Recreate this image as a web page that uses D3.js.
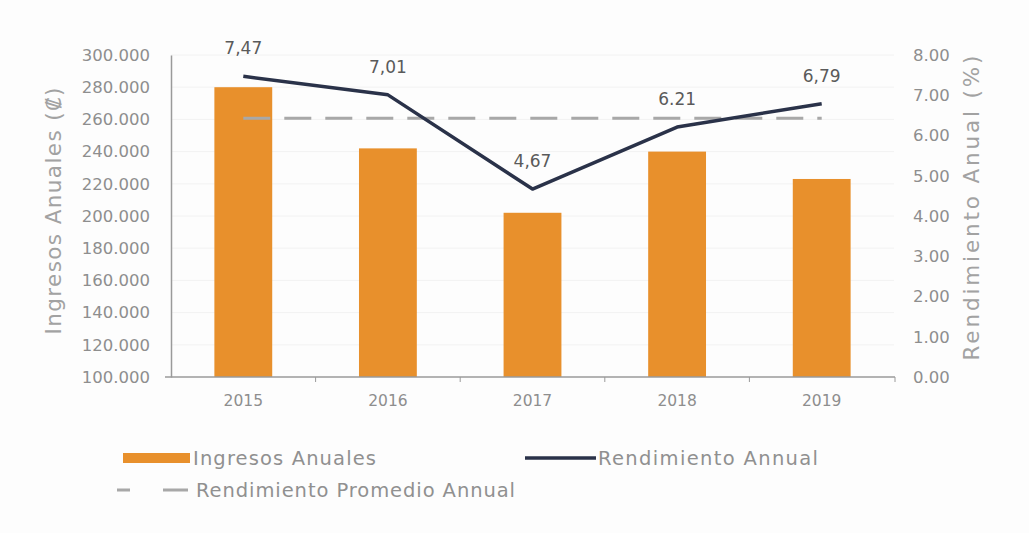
<!DOCTYPE html>
<html>
<head>
<meta charset="utf-8">
<script src="https://cdn.jsdelivr.net/npm/d3@7"></script>
<style>
  html, body { margin: 0; padding: 0; background: #fdfdfd; }
  svg { display: block; }
  text { font-family: "DejaVu Sans", "Liberation Sans", sans-serif; }
</style>
</head>
<body>
<svg id="chart" width="1029" height="533"></svg>
<script>
// Annual income (bars, left axis) and annual yield (line, right axis)
const years = ["2015", "2016", "2017", "2018", "2019"];
const ingresos = [280000, 242000, 202000, 240000, 223000];
const rendimiento = [7.47, 7.01, 4.67, 6.21, 6.79];
const rendimientoLabels = ["7,47", "7,01", "4,67", "6.21", "6,79"];
const rendimientoPromedio = [6.43, 6.43, 6.43, 6.43, 6.43];
const leftTicks = [100000, 120000, 140000, 160000, 180000, 200000, 220000, 240000, 260000, 280000, 300000];
const rightTicks = [0, 1, 2, 3, 4, 5, 6, 7, 8];

const svg = d3.select("#chart");
const plotTop = 55, plotBottom = 377, plotLeft = 171, plotRight = 894;

const x = d3.scaleBand().domain(years).range([plotLeft, plotRight]).paddingInner(0.6).paddingOuter(0.3);
const xc = d => x(d) + x.bandwidth() / 2;
const yL = d3.scaleLinear().domain([100000, 300000]).range([plotBottom, plotTop]);
const yR = d3.scaleLinear().domain([0, 8]).range([plotBottom, plotTop]);

const fmtL = d3.format(",.0f");
const fmtThousand = v => fmtL(v).replace(/,/g, ".");

const tickColor = "#8e8e8e";
const axisColor = "#9a9a9a";

// faint horizontal gridlines
svg.append("g").selectAll("line").data(leftTicks.slice(1)).join("line")
  .attr("x1", plotLeft).attr("x2", plotRight)
  .attr("y1", d => yL(d)).attr("y2", d => yL(d))
  .attr("stroke", "#f2f2f2").attr("stroke-width", 1);

// bars
svg.append("g").selectAll("rect").data(years).join("rect")
  .attr("x", d => x(d))
  .attr("width", x.bandwidth())
  .attr("y", (d, i) => yL(ingresos[i]))
  .attr("height", (d, i) => plotBottom - yL(ingresos[i]))
  .attr("fill", "#e8902c");

// left axis
const axL = svg.append("g").attr("transform", `translate(${plotLeft},0)`)
  .call(d3.axisLeft(yL).tickValues(leftTicks).tickFormat(fmtThousand).tickSize(0).tickPadding(21));
axL.select(".domain").attr("stroke", axisColor).attr("stroke-width", 1.5);
axL.selectAll("text").attr("fill", tickColor).attr("font-size", 16.5).attr("font-family", "DejaVu Sans");

// right axis (labels only)
const axR = svg.append("g").attr("transform", `translate(${plotRight + 19},0)`)
  .call(d3.axisRight(yR).tickValues(rightTicks).tickFormat(d3.format(".2f")).tickSize(0).tickPadding(0));
axR.select(".domain").remove();
axR.selectAll("text").attr("fill", tickColor).attr("font-size", 16.5).attr("font-family", "DejaVu Sans");

// bottom axis
const axB = svg.append("g").attr("transform", `translate(0,${plotBottom})`)
  .call(d3.axisBottom(x).tickSize(0).tickPadding(18));
axB.select(".domain").attr("stroke", axisColor).attr("stroke-width", 1.5)
  .attr("d", `M${plotLeft - 6},0H${plotRight + 1}`);
axB.selectAll("text").attr("fill", tickColor).attr("font-size", 15.5).attr("font-family", "DejaVu Sans");
// tick marks between categories
const bounds = years.slice(1).map(d => x(d) - x.step() * x.paddingInner() / 2);
axB.append("g").selectAll("line").data(bounds.concat([plotRight + 1])).join("line")
  .attr("x1", d => d).attr("x2", d => d).attr("y1", 0).attr("y2", 5)
  .attr("stroke", axisColor).attr("stroke-width", 1);

// axis titles
svg.append("text")
  .attr("transform", `translate(61,211) rotate(-90)`)
  .attr("text-anchor", "middle").attr("fill", "#a2a2a2").attr("font-size", 21.5)
  .attr("textLength", 247).attr("lengthAdjust", "spacing")
  .text("Ingresos Anuales (₡)");
svg.append("text")
  .attr("transform", `translate(979,208) rotate(-90)`)
  .attr("text-anchor", "middle").attr("fill", "#a2a2a2").attr("font-size", 21.5)
  .attr("textLength", 305).attr("lengthAdjust", "spacing")
  .text("Rendimiento Anual (%)");

// average yield dashed line
const line = d3.line().x((d, i) => xc(years[i])).y(d => yR(d));
svg.append("path").datum(rendimientoPromedio)
  .attr("d", line).attr("fill", "none")
  .attr("stroke", "#a8a8a8").attr("stroke-width", 3)
  .attr("stroke-dasharray", "27,14");

// annual yield line
svg.append("path").datum(rendimiento)
  .attr("d", line).attr("fill", "none")
  .attr("stroke", "#2a3249").attr("stroke-width", 3.5)
  .attr("stroke-linejoin", "round");

// value labels
svg.append("g").selectAll("text").data(rendimiento).join("text")
  .attr("x", (d, i) => xc(years[i]))
  .attr("y", d => yR(d) - 22)
  .attr("text-anchor", "middle").attr("fill", "#5a5a5a")
  .attr("font-size", 17)
  .text((d, i) => rendimientoLabels[i]);

// legend
const lg = svg.append("g").attr("font-size", 19.5);
lg.append("rect").attr("x", 123).attr("y", 453).attr("width", 67).attr("height", 10).attr("fill", "#e8902c");
lg.append("text").attr("x", 193).attr("y", 465).attr("fill", "#909090")
  .attr("textLength", 183).attr("lengthAdjust", "spacing").text("Ingresos Anuales");
lg.append("line").attr("x1", 525).attr("x2", 596).attr("y1", 458).attr("y2", 458)
  .attr("stroke", "#2a3249").attr("stroke-width", 3.5);
lg.append("text").attr("x", 598).attr("y", 465).attr("fill", "#909090")
  .attr("textLength", 220).attr("lengthAdjust", "spacing").text("Rendimiento Annual");
lg.append("line").attr("x1", 117).attr("x2", 188).attr("y1", 490).attr("y2", 490)
  .attr("stroke", "#a8a8a8").attr("stroke-width", 3).attr("stroke-dasharray", "13,33,25");
lg.append("text").attr("x", 196).attr("y", 497).attr("fill", "#909090")
  .attr("textLength", 319).attr("lengthAdjust", "spacing").text("Rendimiento Promedio Annual");
</script>
</body>
</html>
